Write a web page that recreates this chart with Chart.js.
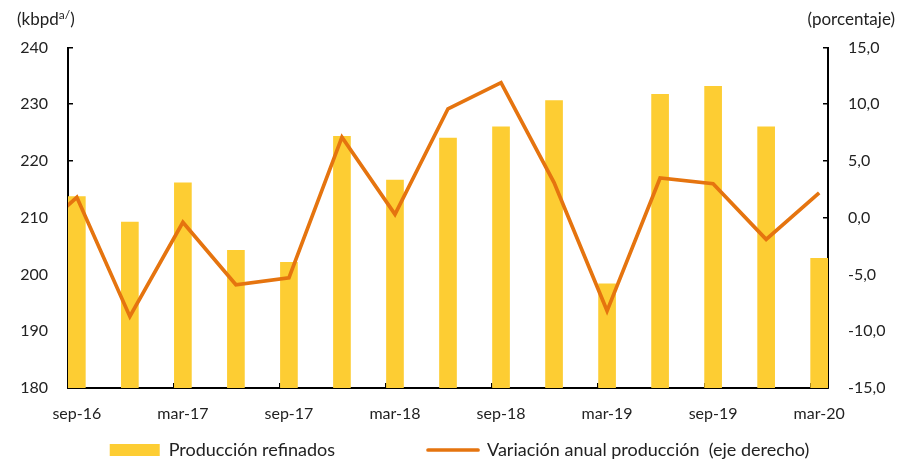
<!DOCTYPE html>
<html><head><meta charset="utf-8">
<script src="https://cdn.jsdelivr.net/npm/chart.js@4.4.1/dist/chart.umd.min.js"></script>
<style>html,body{margin:0;padding:0;background:#fff;}#wrap{width:897px;height:464px;}</style>
</head><body><div id="wrap"><canvas id="c" width="897" height="464"></canvas></div>
<script>
// ---- data (quarterly, from the picture) ----
const quarters = ['jun-16','sep-16','dec-16','mar-17','jun-17','sep-17','dec-17','mar-18','jun-18','sep-18','dec-18','mar-19','jun-19','sep-19','dec-19','mar-20'];
const produccionRefinados = [null, 213.8, 209.3, 216.2, 204.3, 202.2, 224.4, 216.7, 224.1, 226.1, 230.7, 198.4, 231.8, 233.2, 226.1, 202.9];
const variacionAnual = [-2.4, 1.8, -8.7, -0.4, -5.9, -5.3, 7.1, 0.3, 9.6, 11.9, 3.1, -8.2, 3.5, 3.0, -1.9, 2.2];
const xTickLabels = ['sep-16','mar-17','sep-17','mar-18','sep-18','mar-19','sep-19','mar-20'];
const leftTickValues = [180, 190, 200, 210, 220, 230, 240];
const rightTickValues = [-15, -10, -5, 0, 5, 10, 15];
const barLabel = 'Producción refinados';
const lineLabel = 'Variación anual producción  (eje derecho)';
const leftTitle = '(kbpd';
const leftTitleSup = 'a/';
const rightTitle = '(porcentaje)';

// ---- styles ----
const FONT = 'Lato';
const textColor = '#222222';
const barColor = '#FDCD33';
const lineColor = '#E5740F';
const axisColor = '#000000';

const firstIdx = quarters.indexOf('sep-16');
const monthOf = i => (i - firstIdx) * 3;          // months since sep-16
const barData = [];
produccionRefinados.forEach((v, i) => { if (v !== null) barData.push({x: monthOf(i), y: v}); });
const lineData = variacionAnual.map((v, i) => ({x: monthOf(i), y: v}));
const xTickPositions = xTickLabels.map(l => monthOf(quarters.indexOf(l)) - 0.5);
const xMin = monthOf(firstIdx) - 0.5;
const xMax = monthOf(quarters.length - 1) + 0.5;

const fmt = v => v.toFixed(1).replace('.', ',');

const axisTitles = {
  id: 'axisTitles',
  afterLayout(chart) {
    // nudge the legend row to the right, as in the reference
    if (chart.legend) { chart.legend.left += 11; chart.legend.right += 11; }
  },
  afterDraw(chart) {
    const ctx = chart.ctx;
    ctx.save();
    ctx.fillStyle = textColor;
    ctx.textBaseline = 'alphabetic';
    ctx.textAlign = 'left';
    ctx.font = '17px ' + FONT;
    let x = 17;
    ctx.fillText(leftTitle, x, 25);
    x += ctx.measureText(leftTitle).width;
    ctx.font = '12px ' + FONT;
    ctx.fillText(leftTitleSup, x, 19);
    x += ctx.measureText(leftTitleSup).width;
    ctx.font = '17px ' + FONT;
    ctx.fillText(')', x, 25);
    ctx.textAlign = 'right';
    ctx.fillText(rightTitle, 895, 25);
    ctx.restore();
  }
};

new Chart(document.getElementById('c'), {
  data: {
    datasets: [
      {
        type: 'bar', label: barLabel, data: barData, yAxisID: 'y',
        backgroundColor: barColor, borderWidth: 0,
        barPercentage: 1/3, categoryPercentage: 1, order: 2
      },
      {
        type: 'line', label: lineLabel, data: lineData, yAxisID: 'y1',
        borderColor: lineColor, backgroundColor: lineColor, borderWidth: 3.7,
        pointRadius: 0, tension: 0, clip: 0, order: 1
      }
    ]
  },
  options: {
    responsive: false,
    animation: false,
    devicePixelRatio: 1,
    layout: { padding: { top: 47.5, left: 0, right: 0, bottom: -5 } },
    scales: {
      x: {
        type: 'linear', position: 'bottom', min: xMin, max: xMax, offset: false,
        afterBuildTicks: s => { s.ticks = xTickPositions.map(v => ({value: v})); },
        afterFit: s => { s.height = 36; },
        ticks: {
          callback: (v, i) => xTickLabels[i],
          labelOffset: 8.84, padding: 21.5, maxRotation: 0, autoSkip: false,
          color: textColor, font: { family: FONT, size: 16 }
        },
        grid: { drawOnChartArea: false, offset: false, tickLength: -5, color: axisColor, lineWidth: 1.5 },
        border: { color: axisColor, width: 2 }
      },
      y: {
        position: 'left', min: 180, max: 240,
        afterBuildTicks: s => { s.ticks = leftTickValues.map(v => ({value: v})); },
        afterFit: s => { s.width = 68; },
        ticks: { padding: 25, color: textColor, font: { family: FONT, size: 16 } },
        grid: { drawOnChartArea: false, tickLength: -5, color: axisColor, lineWidth: 1.5 },
        border: { color: axisColor, width: 2 }
      },
      y1: {
        position: 'right', min: -15, max: 15,
        afterBuildTicks: s => { s.ticks = rightTickValues.map(v => ({value: v})); },
        afterFit: s => { s.width = 69; },
        ticks: { padding: 25, color: textColor, font: { family: FONT, size: 16 }, callback: v => fmt(v) },
        grid: { drawOnChartArea: false, tickLength: -5, color: axisColor, lineWidth: 1.5 },
        border: { color: axisColor, width: 2 }
      }
    },
    plugins: {
      tooltip: { enabled: false },
      legend: {
        position: 'bottom',
        labels: {
          usePointStyle: true, pointStyleWidth: 50, boxHeight: 12, padding: 17,
          color: textColor, font: { family: FONT, size: 18 },
          generateLabels: () => [
            { text: barLabel, fillStyle: barColor, strokeStyle: barColor, lineWidth: 0, pointStyle: 'rect', datasetIndex: 0, hidden: false, fontColor: textColor },
            { text: '', fillStyle: 'rgba(0,0,0,0)', strokeStyle: 'rgba(0,0,0,0)', lineWidth: 0, pointStyle: 'rect', hidden: false },
            { text: lineLabel, fillStyle: lineColor, strokeStyle: lineColor, lineWidth: 3.7, lineCap: 'round', pointStyle: 'line', datasetIndex: 1, hidden: false, fontColor: textColor }
          ]
        }
      }
    }
  },
  plugins: [axisTitles]
});
</script></body></html>
